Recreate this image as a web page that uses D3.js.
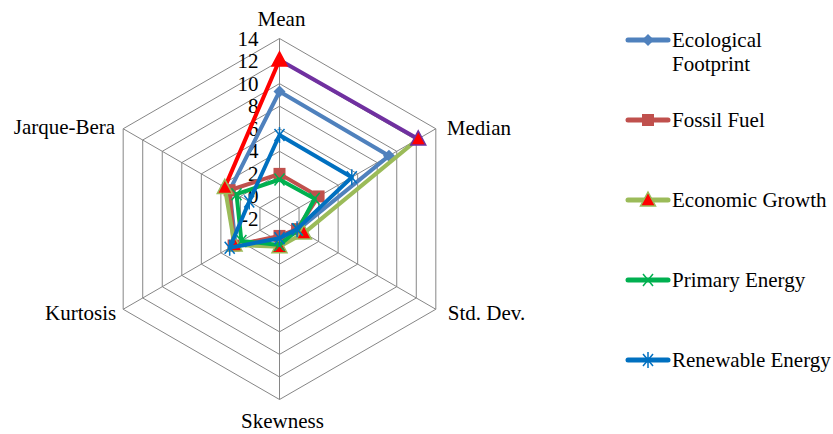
<!DOCTYPE html>
<html>
<head>
<meta charset="utf-8">
<script src="https://cdn.jsdelivr.net/npm/d3@7/dist/d3.min.js"></script>
<style>
  html, body { margin: 0; padding: 0; background: #fff; }
  svg { display: block; }
</style>
</head>
<body>
<svg id="chart" width="833" height="434"></svg>
<script>
// Radar categories and series values
const axes = ["Mean", "Median", "Std. Dev.", "Skewness", "Kurtosis", "Jarque-Bera"];
const seriesNames = ["Ecological Footprint", "Fossil Fuel", "Economic Growth", "Primary Energy", "Renewable Energy"];
const ecologicalFootprint = [9.3, 9.2, -0.1, -0.3, 2.5, 3.1];
const fossilFuel = [2.0, 2.0, -0.2, -0.5, 2.7, 3.1];
const economicGrowth = [12.1, 12.2, 0.5, 0.45, 2.6, 3.6];
const primaryEnergy = [1.5, 1.6, -0.1, 0.3, 1.9, 2.4];
const renewableEnergy = [5.45, 5.4, -0.2, -0.3, 3.1, 1.1];
const tickValues = [-2, 0, 2, 4, 6, 8, 10, 12, 14];

const FONT = "'Liberation Serif', 'Times New Roman', Times, serif";
const svg = d3.select("#chart");
const cx = 279.5, cy = 219, R = 180.5;
const r = d3.scaleLinear().domain([-2, 14]).range([0, R]);
const angle = d3.scaleBand().domain(axes).range([0, 2 * Math.PI]).align(0);
const pt = (axis, v) => {
  const a = angle(axis);
  return [cx + r(v) * Math.sin(a), cy - r(v) * Math.cos(a)];
};
const addText = (g, x, y, s, anchor) => g.append("text")
  .attr("x", x).attr("y", y).attr("text-anchor", anchor || "start")
  .attr("dominant-baseline", "central").attr("font-family", FONT)
  .attr("font-size", 21).attr("fill", "#000").text(s);

// Hexagonal gridlines
const grid = svg.append("g");
tickValues.slice(1).forEach(t => {
  grid.append("path")
    .attr("d", d3.line()(axes.map(a => pt(a, t))) + "Z")
    .attr("fill", "none").attr("stroke", "#868686").attr("stroke-width", 1);
});
axes.forEach(a => {
  const [x, y] = pt(a, 14);
  grid.append("line").attr("x1", cx).attr("y1", cy).attr("x2", x).attr("y2", y)
    .attr("stroke", "#868686").attr("stroke-width", 1);
});

// Category labels
const labelPos = {
  "Mean": { dx: 2, dy: -20, anchor: "middle" },
  "Median": { dx: 11, dy: -1, anchor: "start" },
  "Std. Dev.": { dx: 12, dy: 4, anchor: "start" },
  "Skewness": { dx: 3, dy: 21, anchor: "middle" },
  "Kurtosis": { dx: -7, dy: 4, anchor: "end" },
  "Jarque-Bera": { dx: -8, dy: -2, anchor: "end" }
};
axes.forEach(a => {
  const [x, y] = pt(a, 14);
  const p = labelPos[a];
  addText(svg, x + p.dx, y + p.dy, a, p.anchor);
});

// Value tick labels along the Mean axis
tickValues.forEach(t => {
  const [, y] = pt("Mean", t);
  addText(svg, cx - 21, y, t, "end");
});

// Marker drawers
const markers = {
  diamond: (g, x, y, c) => g.append("path")
    .attr("d", `M${x},${y - 6}L${x + 6},${y}L${x},${y + 6}L${x - 6},${y}Z`).attr("fill", c),
  square: (g, x, y, c) => g.append("rect")
    .attr("x", x - 6).attr("y", y - 6).attr("width", 12).attr("height", 12).attr("fill", c),
  triangle: (g, x, y, c, s) => g.append("path")
    .attr("d", `M${x},${y - 8}L${x + 7.5},${y + 6}L${x - 7.5},${y + 6}Z`)
    .attr("fill", c).attr("stroke", s || c).attr("stroke-width", 1.5),
  cross: (g, x, y, c) => g.append("path")
    .attr("d", `M${x - 5},${y - 6}L${x + 5},${y + 6}M${x + 5},${y - 6}L${x - 5},${y + 6}`)
    .attr("stroke", c).attr("stroke-width", 1.5).attr("fill", "none"),
  star: (g, x, y, c) => g.append("path")
    .attr("d", `M${x - 5},${y - 6}L${x + 5},${y + 6}M${x + 5},${y - 6}L${x - 5},${y + 6}M${x},${y - 8}L${x},${y + 8}`)
    .attr("stroke", c).attr("stroke-width", 1.5).attr("fill", "none")
};

const series = [
  { name: seriesNames[0], values: ecologicalFootprint, color: "#4F81BD", marker: "diamond", mcolor: "#4F81BD" },
  { name: seriesNames[1], values: fossilFuel, color: "#C0504D", marker: "square", mcolor: "#C0504D" },
  { name: seriesNames[2], values: economicGrowth, color: "#9BBB59", marker: "triangle", mcolor: "#FF0000",
    segColors: ["#7030A0", "#9BBB59", "#9BBB59", "#9BBB59", "#9BBB59", "#FF0000"],
    mstroke: ["#FF0000", "#7030A0", "#9BBB59", "#9BBB59", "#9BBB59", "#9BBB59"] },
  { name: seriesNames[3], values: primaryEnergy, color: "#00B050", marker: "cross", mcolor: "#00B050" },
  { name: seriesNames[4], values: renewableEnergy, color: "#0070C0", marker: "star", mcolor: "#0070C0" }
];

const plot = svg.append("g");
series.forEach(s => {
  const g = plot.append("g");
  const pts = axes.map((a, i) => pt(a, s.values[i]));
  if (s.segColors) {
    pts.forEach((p, i) => {
      const q = pts[(i + 1) % pts.length];
      g.append("line").attr("x1", p[0]).attr("y1", p[1]).attr("x2", q[0]).attr("y2", q[1])
        .attr("stroke", s.segColors[i]).attr("stroke-width", 4).attr("stroke-linecap", "round");
    });
  } else {
    g.append("path").attr("d", d3.line()(pts) + "Z")
      .attr("fill", "none").attr("stroke", s.color).attr("stroke-width", 4)
      .attr("stroke-linejoin", "round");
  }
  pts.forEach((p, i) => markers[s.marker](g, p[0], p[1], s.mcolor, s.mstroke ? s.mstroke[i] : null));
});

// Legend
const legendY = [40, 120, 200, 280, 360];
const legend = svg.append("g");
series.forEach((s, i) => {
  const y = legendY[i];
  legend.append("line").attr("x1", 628).attr("y1", y).attr("x2", 668).attr("y2", y)
    .attr("stroke", s.color).attr("stroke-width", 5).attr("stroke-linecap", "round");
  markers[s.marker](legend, 648, y, s.mcolor, s.marker === "triangle" ? "#9BBB59" : null);
  const words = s.name === "Ecological Footprint" ? ["Ecological", "Footprint"] : [s.name];
  words.forEach((w, j) => addText(legend, 672, y + j * 24, w));
});
</script>
</body>
</html>
